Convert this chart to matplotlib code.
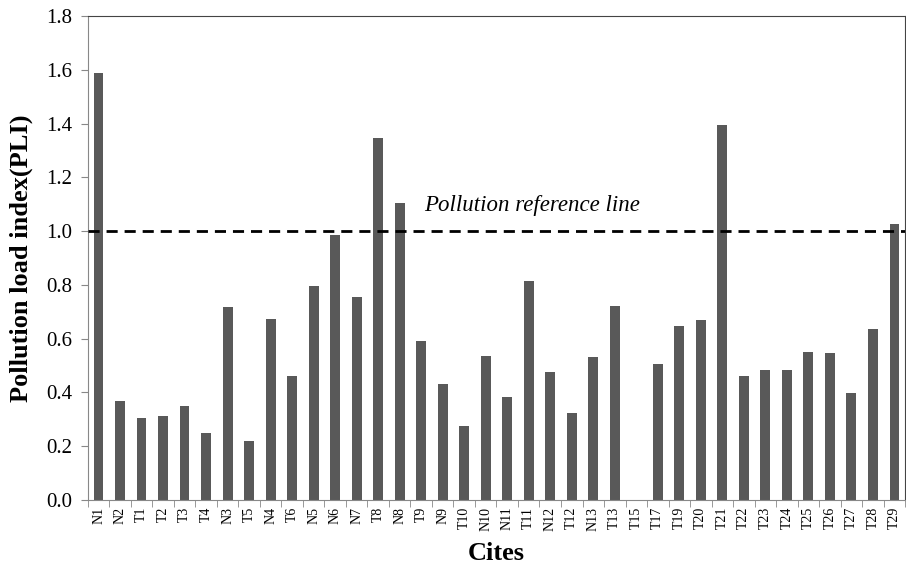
import matplotlib
matplotlib.use("Agg")
import matplotlib.pyplot as plt
import numpy as np

sites = ["N1", "N2", "T1", "T2", "T3", "T4", "N3", "T5", "N4", "T6", "N5", "N6", "N7", "T8",
         "N8", "T9", "N9", "T10", "N10", "N11", "T11", "N12", "T12", "N13", "T13", "T15", "T17",
         "T19", "T20", "T21", "T22", "T23", "T24", "T25", "T26", "T27", "T28", "T29"]
pli = [1.588, 0.368, 0.305, 0.312, 0.350, 0.249, 0.718, 0.219, 0.673, 0.461, 0.796, 0.985,
       0.755, 1.346, 1.104, 0.591, 0.431, 0.275, 0.535, 0.383, 0.814, 0.476, 0.323, 0.532,
       0.721, 0.0, 0.506, 0.647, 0.669, 1.394, 0.461, 0.483, 0.483, 0.550, 0.547, 0.398,
       0.636, 1.026]
ref_value = 1.0
yticks = [0.0, 0.2, 0.4, 0.6, 0.8, 1.0, 1.2, 1.4, 1.6, 1.8]

plt.rcParams['font.family'] = ['Liberation Serif', 'DejaVu Serif']

fig = plt.figure(figsize=(9.06, 5.70), dpi=100)
ax = fig.add_axes([0.097, 0.123, 0.902, 0.849])

x = np.arange(len(sites))
ax.bar(x, pli, width=0.45, color='#595959', zorder=2)
ax.axhline(ref_value, color='black', linestyle=(0, (4, 2.5)), linewidth=2, zorder=3)
ax.text(15.15, ref_value + 0.055, "Pollution reference line", fontsize=16.5, style='italic',
        ha='left', va='bottom')

ax.set_xlim(-0.5, len(sites) - 0.5)
ax.set_ylim(0, 1.8)
ax.set_yticks(yticks)
ax.set_yticklabels([f"{v:.1f}" for v in yticks], fontsize=15)
ax.set_xticks(x)
ax.set_xticklabels(sites, rotation=90, fontsize=10)
ax.set_xticks(np.arange(-0.5, len(sites), 1), minor=True)
ax.tick_params(axis='x', which='major', length=0, pad=5)
ax.tick_params(axis='x', which='minor', length=5, color='#888888', direction='out')
ax.tick_params(axis='y', length=5, color='#888888', direction='out', pad=6)

for s in ax.spines.values():
    s.set_color('#888888')
    s.set_linewidth(0.8)
ax.spines['top'].set_color('#444444')
ax.spines['right'].set_color('#444444')

ax.set_ylabel("Pollution load index(PLI)", fontsize=19, fontweight='bold', labelpad=10)
ax.set_xlabel("Cites", fontsize=19, fontweight='bold', labelpad=8)

fig.savefig("out.png", dpi=100)
